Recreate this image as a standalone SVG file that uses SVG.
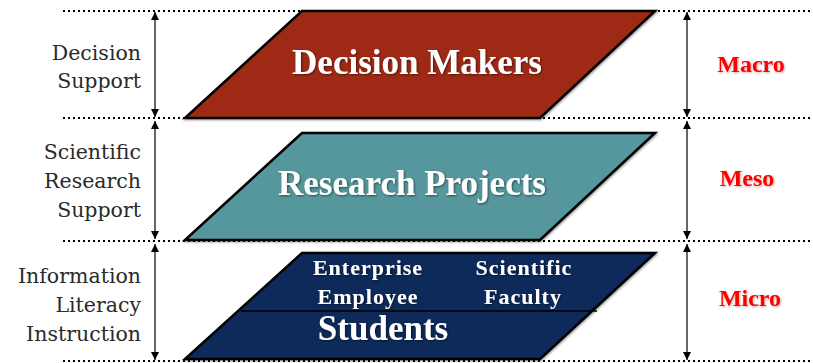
<svg xmlns="http://www.w3.org/2000/svg" width="813" height="363" viewBox="0 0 813 363">
<style>
.dot{stroke:#000;stroke-width:2;stroke-dasharray:2 3;fill:none}
.arr{stroke:#000;stroke-width:1.2;fill:none;marker-start:url(#ah);marker-end:url(#ah)}
.side{font-family:"DejaVu Serif",serif;font-size:20.5px;fill:#2a2a2a;text-anchor:end}
.main{font-family:"Liberation Serif",serif;font-weight:bold;fill:#fff;text-anchor:middle;filter:url(#ts)}
.lvl{font-family:"Liberation Serif",serif;font-weight:bold;font-size:24px;fill:#ff0000;text-anchor:middle;filter:url(#glow)}
.par{stroke:#000;stroke-width:2.5;stroke-linejoin:miter;filter:url(#ps)}
</style>
<defs>
<marker id="ah" viewBox="0 0 10 10" refX="10" refY="5" markerWidth="8" markerHeight="9" markerUnits="userSpaceOnUse" orient="auto-start-reverse">
<path d="M0,0 L10,5 L0,10 z" fill="#000"/>
</marker>
<filter id="ts" x="-10%" y="-30%" width="120%" height="160%">
<feGaussianBlur in="SourceAlpha" stdDeviation="1"/>
<feOffset dx="1" dy="1" result="b"/>
<feFlood flood-color="#000" flood-opacity="0.5"/>
<feComposite in2="b" operator="in"/>
<feMerge><feMergeNode/><feMergeNode in="SourceGraphic"/></feMerge>
</filter>
<filter id="glow" x="-20%" y="-40%" width="140%" height="180%">
<feGaussianBlur in="SourceAlpha" stdDeviation="1.2"/>
<feOffset dx="1" dy="1" result="b"/>
<feFlood flood-color="#900" flood-opacity="0.35"/>
<feComposite in2="b" operator="in"/>
<feMerge><feMergeNode/><feMergeNode in="SourceGraphic"/></feMerge>
</filter>
<filter id="ps" x="-5%" y="-10%" width="110%" height="120%">
<feGaussianBlur in="SourceAlpha" stdDeviation="0.8"/>
<feOffset dx="1" dy="1" result="b"/>
<feFlood flood-color="#000" flood-opacity="0.4"/>
<feComposite in2="b" operator="in"/>
<feMerge><feMergeNode/><feMergeNode in="SourceGraphic"/></feMerge>
</filter>
</defs>

<g id="guides">
<line class="dot" x1="63" y1="11" x2="813" y2="11"/>
<line class="dot" x1="63" y1="118" x2="813" y2="118"/>
<line class="dot" x1="63" y1="241" x2="813" y2="241"/>
<line class="dot" x1="63" y1="361" x2="813" y2="361"/>
</g>

<g id="connectors">
<line class="arr" x1="155" y1="12" x2="155" y2="117"/>
<line class="arr" x1="155" y1="121" x2="155" y2="239"/>
<line class="arr" x1="155" y1="244" x2="155" y2="360"/>
<line class="arr" x1="687" y1="12" x2="687" y2="117"/>
<line class="arr" x1="687" y1="121" x2="687" y2="239"/>
<line class="arr" x1="687" y1="244" x2="687" y2="360"/>
</g>

<g id="decision-makers">
<polygon class="par" points="302,11 655,11 540,118 185,118" fill="#9e2b17"/>
<text class="main" x="417" y="74" font-size="35">Decision Makers</text>
</g>

<g id="research-projects">
<polygon class="par" points="302,133 655,133 540,240 185,240" fill="#55979c"/>
<text class="main" x="412" y="195" font-size="35">Research Projects</text>
</g>

<g id="students-layer">
<polygon class="par" points="302,253 655,253 540,359 185,359" fill="#112a5a"/>
<line x1="241" y1="311" x2="597" y2="311" stroke="#000" stroke-width="1.5"/>
<text class="main" x="368" y="275" font-size="22" letter-spacing="1">Enterprise</text>
<text class="main" x="368" y="304" font-size="22" letter-spacing="1">Employee</text>
<text class="main" x="524" y="275" font-size="22" letter-spacing="1">Scientific</text>
<text class="main" x="523" y="304" font-size="22" letter-spacing="1">Faculty</text>
<text class="main" x="383" y="340" font-size="35">Students</text>
</g>

<g id="left-labels">
<text class="side" x="141" y="60">Decision</text>
<text class="side" x="141" y="88">Support</text>
<text class="side" x="141" y="159">Scientific</text>
<text class="side" x="141" y="188">Research</text>
<text class="side" x="141" y="217">Support</text>
<text class="side" x="141" y="283">Information</text>
<text class="side" x="141" y="312">Literacy</text>
<text class="side" x="141" y="341">Instruction</text>
</g>

<g id="levels">
<text class="lvl" x="751" y="72">Macro</text>
<text class="lvl" x="747" y="186">Meso</text>
<text class="lvl" x="750" y="306">Micro</text>
</g>
</svg>
